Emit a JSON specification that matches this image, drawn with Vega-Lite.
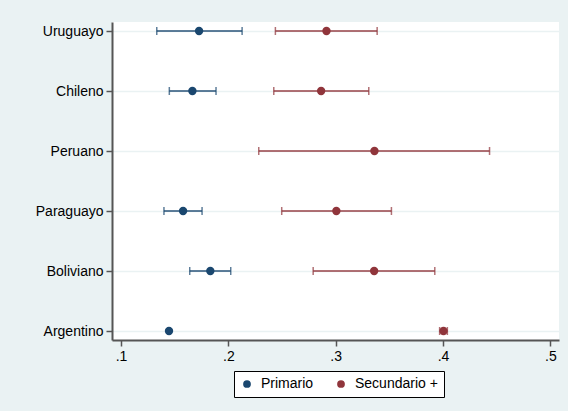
{
  "$schema": "https://vega.github.io/schema/vega-lite/v6.json",
  "width": 447,
  "height": 318,
  "autosize": {"type": "none"},
  "padding": {"left": 112, "top": 22, "right": 9, "bottom": 71},
  "background": "#EAF2F3",
  "config": {
    "font": "Liberation Sans",
    "view": {"fill": "white", "stroke": null},
    "axis": {"labelFont": "Liberation Sans", "labelFontSize": 14, "labelColor": "#000", "domainColor": "#555", "domainWidth": 2, "tickColor": "#555", "tickWidth": 1.5, "tickSize": 6}
  },
  "data": {"values": [
    {"origen": "Uruguayo", "grupo": "Primario", "est": 0.1727, "lo": 0.1333, "hi": 0.2128},
    {"origen": "Chileno", "grupo": "Primario", "est": 0.1665, "lo": 0.145, "hi": 0.1885},
    {"origen": "Paraguayo", "grupo": "Primario", "est": 0.1578, "lo": 0.140, "hi": 0.1755},
    {"origen": "Boliviano", "grupo": "Primario", "est": 0.1832, "lo": 0.164, "hi": 0.2022},
    {"origen": "Argentino", "grupo": "Primario", "est": 0.1447, "lo": null, "hi": null},
    {"origen": "Uruguayo", "grupo": "Secundario +", "est": 0.2914, "lo": 0.2438, "hi": 0.3386},
    {"origen": "Chileno", "grupo": "Secundario +", "est": 0.2864, "lo": 0.2423, "hi": 0.3308},
    {"origen": "Peruano", "grupo": "Secundario +", "est": 0.3361, "lo": 0.2283, "hi": 0.4433},
    {"origen": "Paraguayo", "grupo": "Secundario +", "est": 0.3006, "lo": 0.2497, "hi": 0.3519},
    {"origen": "Boliviano", "grupo": "Secundario +", "est": 0.3358, "lo": 0.279, "hi": 0.3923},
    {"origen": "Argentino", "grupo": "Secundario +", "est": 0.4004, "lo": 0.3968, "hi": 0.404}
  ]},
  "encoding": {
    "y": {"field": "origen", "type": "nominal", "sort": ["Uruguayo", "Chileno", "Peruano", "Paraguayo", "Boliviano", "Argentino"],
      "scale": {"type": "point", "padding": 0.15},
      "axis": {"title": null, "grid": true, "gridColor": "#EAF2F3", "gridWidth": 1.5, "labelPadding": 3}},
    "color": {"field": "grupo", "type": "nominal",
      "scale": {"domain": ["Primario", "Secundario +"], "range": ["#1a476f", "#90353b"]},
      "legend": {"title": null, "orient": "none", "legendX": 122, "legendY": 349, "direction": "horizontal",
        "strokeColor": "#000", "fillColor": "white", "padding": 6, "symbolType": "circle", "symbolSize": 60,
        "symbolStrokeWidth": 0, "symbolOpacity": 1,
        "labelFontSize": 14, "labelFont": "Liberation Sans", "labelColor": "#000", "columnPadding": 20, "symbolOffset": 0, "labelOffset": 7}}
  },
  "layer": [
    {
      "mark": {"type": "errorbar", "ticks": {"size": 8, "thickness": 1.5}, "thickness": 2, "opacity": 0.7},
      "encoding": {
        "x": {"field": "lo", "type": "quantitative"},
        "x2": {"field": "hi"}
      }
    },
    {
      "mark": {"type": "point", "filled": true, "opacity": 1, "size": 70},
      "encoding": {
        "x": {"field": "est", "type": "quantitative",
          "scale": {"domain": [0.0916, 0.508], "nice": false, "zero": false},
          "axis": {"title": null, "values": [0.1, 0.2, 0.3, 0.4, 0.5], "labelExpr": "substring(format(datum.value, '.1f'), 1)", "grid": false, "labelPadding": 3}}
      }
    }
  ]
}
